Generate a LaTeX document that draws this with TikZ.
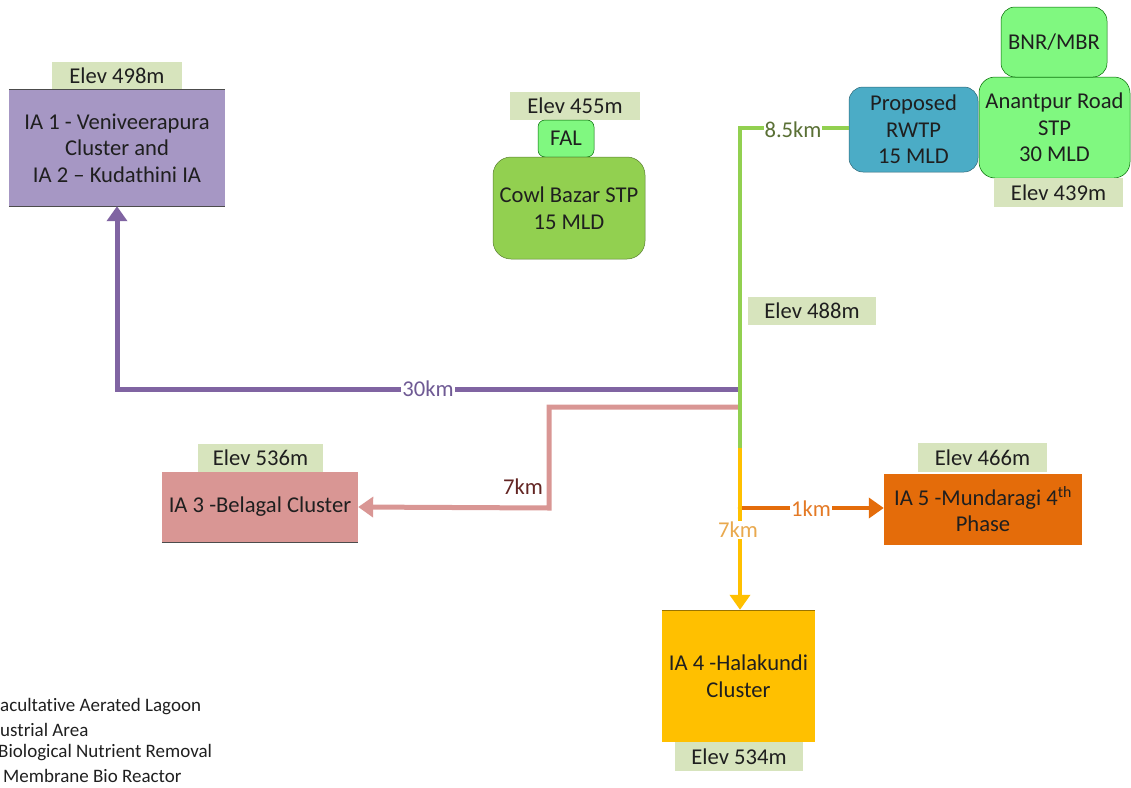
\documentclass[tikz,border=0pt]{standalone}
\usepackage{fontspec}
\setmainfont{Carlito}[Ligatures=NoCommon]
\usetikzlibrary{arrows.meta}
\definecolor{elevc}{HTML}{D7E4BD}
\definecolor{txt}{HTML}{1F1F1F}
\definecolor{purpl}{HTML}{8064A2}
\definecolor{purpbox}{HTML}{A697C4}
\definecolor{pinkc}{HTML}{D99694}
\definecolor{greenl}{HTML}{92D050}
\definecolor{lgreen}{HTML}{80F880}
\definecolor{yell}{HTML}{FFC000}
\definecolor{orng}{HTML}{E46C0A}
\definecolor{teal}{HTML}{4BACC6}
\definecolor{lbl30}{HTML}{6F5A94}
\definecolor{lbl85}{HTML}{5A7035}
\definecolor{lblpink}{HTML}{632523}
\definecolor{lbly}{HTML}{E9A94E}
\definecolor{lblo}{HTML}{E47A26}
\begin{document}
\begin{tikzpicture}[x=1pt,y=-1pt,
  bigfont/.style={font=\fontsize{22.6}{26.5}\selectfont},
  elev/.style={bigfont, fill=elevc, text=txt, minimum width=130pt, minimum height=28pt, inner sep=0pt},
  box/.style={bigfont, text=txt, align=center, inner sep=0pt},
  rbox/.style={box, rounded corners=#1},
  lbl/.style={bigfont, fill=white, inner sep=1.5pt},
  conn/.style={line width=5pt},
  tip/.style={-{Triangle[length=15pt,width=20pt]}},
  legend/.style={font=\fontsize{19}{23}\selectfont, text=txt, anchor=west, inner sep=0pt}
]
\useasboundingbox (0,0) rectangle (1131,787);

% nodes
\node[elev] (e498) at (117,76) {Elev 498m};
\node[box, fill=purpbox, minimum width=216pt, minimum height=116pt] (ia1) at (117,148)
  {IA 1 - Veniveerapura\\Cluster and\\IA 2 -- Kudathini IA};
\draw[txt!80, line width=0.8pt] (ia1.north west) -- (ia1.north east);
\draw[txt!80, line width=0.8pt] (ia1.south west) -- (ia1.south east);

\node[elev] (e455) at (575,106) {Elev 455m};
\node[rbox=7pt, fill=lgreen, draw=green!40!black, line width=0.5pt, minimum width=56pt, minimum height=37pt] (fal) at (566,138.5) {FAL};
\node[rbox=18pt, fill=greenl, draw=greenl!60!black, line width=0.5pt, minimum width=152pt, minimum height=102pt] (cowl) at (569,208) {Cowl Bazar STP\\15 MLD};

\node[rbox=14pt, fill=teal, draw=teal!60!black, line width=0.5pt, minimum width=129pt, minimum height=85pt] (rwtp) at (913.5,129.5) {Proposed\\RWTP\\15 MLD};
\node[rbox=16pt, fill=lgreen, draw=green!40!black, line width=0.5pt, minimum width=151pt, minimum height=101pt] (anant) at (1054.5,127.5) {Anantpur Road\\STP\\30 MLD};
\node[rbox=14pt, fill=lgreen, draw=green!40!black, line width=0.5pt, minimum width=106pt, minimum height=70pt] (bnr) at (1054,42) {BNR/MBR};
\node[elev, minimum width=129pt, minimum height=29pt] (e439) at (1058.5,192.5) {Elev 439m};

\node[elev, minimum width=128pt] (e488) at (812,311) {Elev 488m};

\node[elev, minimum width=125pt] (e536) at (260.5,458) {Elev 536m};
\node[box, fill=pinkc, minimum width=196pt, minimum height=70pt] (ia3) at (260,507) {IA 3 -Belagal Cluster};
\draw[txt!80, line width=0.8pt] (ia3.south west) -- (ia3.south east);

\node[elev, minimum width=129pt, minimum height=29pt] (e466) at (982.5,457.5) {Elev 466m};
\node[box, fill=orng, minimum width=198pt, minimum height=71pt] (ia5) at (983,509.5) {IA 5 -Mundaragi 4\textsuperscript{th}\\Phase};

\node[box, fill=yell, minimum width=153pt, minimum height=132pt] (ia4) at (738.5,676) {IA 4 -Halakundi\\Cluster};
\draw[yell!60!black, line width=0.6pt] (ia4.north west) -- (ia4.north east);
\node[elev, minimum width=128pt, minimum height=29pt] (e534) at (739,756.5) {Elev 534m};

% junctions
\coordinate (jtop) at (740,128);
\coordinate (jp) at (740,389);
\coordinate (jk) at (740,407);
\coordinate (jy) at (740,448);
\coordinate (jo) at (740,508);
\coordinate (pk1) at (549,407);
\coordinate (pk2) at (549,508);

% connectors
\draw[conn, purpl, tip] (jp) -- (jp -| ia1) -- (ia1.south);
\draw[conn, pinkc, tip] (jk) -- (pk1) -- (pk2) -- (ia3.east);
\draw[conn, orng, line width=4.5pt, tip, line cap=round] (jo) -- (jo -| ia5.west);
\draw[conn, yell, line width=4.5pt, tip] (jy) -- (jy |- ia4.north);
\draw[conn, greenl, line width=4.5pt] (rwtp.west |- jtop) -- (jtop) -- (jy);

% labels
\node[lbl, text=lbl30] (l30) at (428,389) {30km};
\node[bigfont, text=lblpink, inner sep=0pt] (l7p) at (523,487) {7km};
\node[lbl, text=lbl85, inner sep=1pt] (l85) at (793,130) {8.5km};
\node[lbl, text=lblo, inner sep=1pt] (l1) at (811,509) {1km};
\node[lbl, text=lbly] (l7y) at (738,530) {7km};

% legend (cut at left edge)
\node[legend] (lg1) at (0,707) {acultative Aerated Lagoon};
\node[legend] (lg2) at (0,730) {ustrial Area};
\node[legend] (lg3) at (-2,753) {Biological Nutrient Removal};
\node[legend] (lg4) at (3,776) {Membrane Bio Reactor};
\end{tikzpicture}
\end{document}
